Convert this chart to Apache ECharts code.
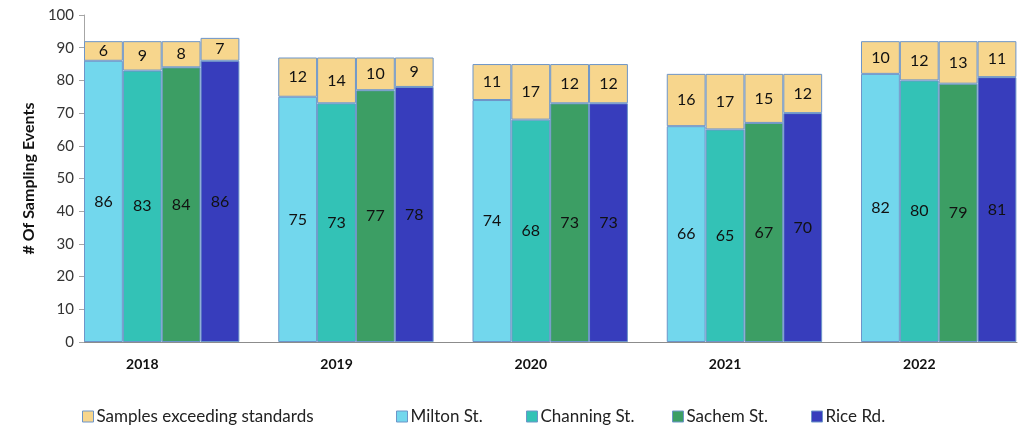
<!DOCTYPE html>
<html>
<head>
<meta charset="utf-8">
<script src="https://cdn.jsdelivr.net/npm/echarts@6/dist/echarts.min.js"></script>
<style>
  html, body { margin: 0; padding: 0; background: #fff; }
  #chart { width: 1024px; height: 425px; }
</style>
</head>
<body>
<div id="chart"></div>
<script>
// 数据
var years = ['2018', '2019', '2020', '2021', '2022'];
var milton = [86, 75, 74, 66, 82];
var miltonOver = [6, 12, 11, 16, 10];
var channing = [83, 73, 68, 65, 80];
var channingOver = [9, 14, 17, 17, 12];
var sachem = [84, 77, 73, 67, 79];
var sachemOver = [8, 10, 12, 15, 13];
var rice = [86, 78, 73, 70, 81];
var riceOver = [7, 9, 12, 12, 11];
var spacer = ['-', '-', '-', '-', '-'];
var yTicks = [0, 100, 10];

var overName = 'Samples exceeding standards';
var overColor = '#f7d68d';
var edge = '#6d95c9';
var font = 'Lato, "Open Sans", sans-serif';

function base(name, data, color, stack) {
    return {
        name: name, type: 'bar', stack: stack, data: data,
        xAxisIndex: 0, yAxisIndex: 0,
        barGap: '0%', barCategoryGap: '0%',
        itemStyle: {color: color, borderColor: edge, borderWidth: 1},
        label: {show: true, position: 'inside', color: '#111', fontSize: 16, fontFamily: font},
        emphasis: {disabled: true}
    };
}
function over(data, stack) {
    return base(overName, data, overColor, stack);
}

var myChart = echarts.init(document.getElementById('chart'), null, {renderer: 'canvas'});

// 图例位置
var legendItems = [
    [overName, 77], ['Milton St.', 391], ['Channing St.', 521], ['Sachem St.', 667], ['Rice Rd.', 806]
];

// 每组前面留一个空位当组间距
var slot = 194.25 / 5;

myChart.setOption({
    animation: false,
    textStyle: {fontFamily: font},
    legend: legendItems.map(function (it) {
        return {
            data: [it[0]], left: it[1], top: 403,
            itemWidth: 11, itemHeight: 11, icon: 'rect', itemGap: 0,
            itemStyle: {borderColor: edge, borderWidth: 1},
            textStyle: {fontSize: 17, color: '#222', fontFamily: font, padding: [0, 0, 0, -2]},
            selectedMode: false
        };
    }),
    grid: [
        {left: 84 - slot, width: 194.25 * 5, top: 15, bottom: 83},
        {left: 84, right: 7, top: 15, bottom: 83}
    ],
    xAxis: [
        {
            type: 'category', data: years, gridIndex: 0,
            axisLine: {show: false}, axisTick: {show: false},
            axisLabel: {fontWeight: 'bold', fontSize: 14, color: '#111', margin: 15, fontFamily: font}
        },
        {
            type: 'value', gridIndex: 1, min: 0, max: 1,
            axisLine: {show: true, lineStyle: {color: '#8c8c8c', width: 1}},
            axisTick: {show: false}, axisLabel: {show: false}, splitLine: {show: false}
        }
    ],
    yAxis: [
        {
            type: 'value', gridIndex: 0, min: yTicks[0], max: yTicks[1], interval: yTicks[2],
            offset: -slot,
            name: '# Of Sampling Events', nameLocation: 'middle', nameGap: 42,
            nameTextStyle: {fontWeight: 'bold', fontSize: 16, color: '#111', fontFamily: font},
            axisLine: {show: true, lineStyle: {color: '#a6a6a6'}},
            axisTick: {show: true, length: 5, lineStyle: {color: '#a6a6a6'}},
            axisLabel: {fontSize: 15, color: '#333', margin: 10, fontFamily: font},
            splitLine: {show: false}
        },
        {type: 'value', gridIndex: 1, show: false}
    ],
    series: [
        {name: 'gap', type: 'bar', stack: 'gap', data: spacer, barGap: '0%', barCategoryGap: '0%', silent: true},
        base('Milton St.', milton, '#72d7ed', 'm'),
        over(miltonOver, 'm'),
        base('Channing St.', channing, '#33c2b6', 'c'),
        over(channingOver, 'c'),
        base('Sachem St.', sachem, '#3c9e64', 's'),
        over(sachemOver, 's'),
        base('Rice Rd.', rice, '#373dbc', 'r'),
        over(riceOver, 'r')
    ]
});
</script>
</body>
</html>
